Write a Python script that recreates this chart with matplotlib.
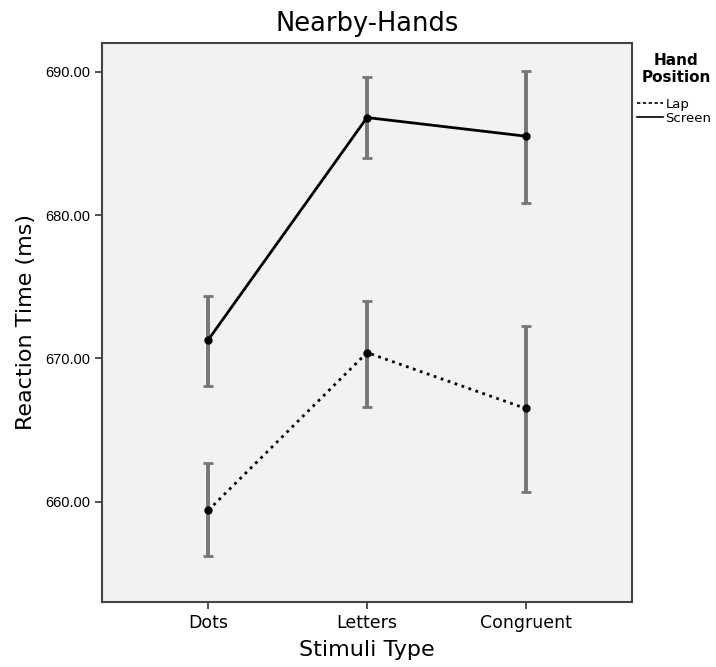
import matplotlib
matplotlib.use('Agg')
import matplotlib.pyplot as plt
from matplotlib.lines import Line2D

# data
stimuli = ['Dots', 'Letters', 'Congruent']
screen_mean = [671.3, 686.8, 685.5]
screen_lo = [668.1, 684.0, 680.85]
screen_hi = [674.35, 689.6, 690.05]
lap_mean = [659.4, 670.4, 666.5]
lap_lo = [656.2, 666.6, 660.7]
lap_hi = [662.7, 674.0, 672.25]

fig = plt.figure(figsize=(7.16, 6.67), dpi=100)
ax = fig.add_axes([0.1425, 0.0975, 0.7402, 0.838])
ax.set_facecolor('#f2f2f2')

x = list(range(len(stimuli)))

def draw(mean, lo, hi, ls):
    err = [[m - l for m, l in zip(mean, lo)], [h - m for m, h in zip(mean, hi)]]
    ax.errorbar(x, mean, yerr=err, fmt='none', ecolor='#767676', elinewidth=2.8,
                capsize=3.8, capthick=2.0, zorder=2)
    ax.plot(x, mean, color='black', linestyle=ls, linewidth=2, marker='o',
            markersize=5, zorder=3)

draw(lap_mean, lap_lo, lap_hi, ':')
draw(screen_mean, screen_lo, screen_hi, '-')

ax.set_xlim(-0.67, 2.67)
ax.set_ylim(653.0, 692.0)
ax.set_xticks(x)
ax.set_xticklabels(stimuli, fontsize=12.5)
ax.set_yticks([660, 670, 680, 690])
ax.set_yticklabels(['660.00', '670.00', '680.00', '690.00'], fontsize=10.5,
                   family='Liberation Sans')
ax.tick_params(length=5, width=1.2, color='#333333')
for s in ax.spines.values():
    s.set_color('#444444')
    s.set_linewidth(1.5)

ax.set_title('Nearby-Hands', fontsize=18.5, pad=9)
ax.set_xlabel('Stimuli Type', fontsize=16, labelpad=6)
ax.set_ylabel('Reaction Time (ms)', fontsize=16, labelpad=7)

fig.text(0.944, 0.897, 'Hand\nPosition', ha='center', va='center', fontsize=11,
         fontweight='semibold', linespacing=1.15)
handles = [Line2D([], [], color='black', linestyle=(0, (2, 1.5)), linewidth=1.2),
           Line2D([], [], color='black', linestyle='-', linewidth=1.2)]
fig.legend(handles, ['Lap', 'Screen'], loc='upper left',
           bbox_to_anchor=(0.889, 0.853), frameon=False, fontsize=9.5,
           handlelength=2.0, handletextpad=0.2, labelspacing=0.05,
           borderaxespad=0, borderpad=0)

fig.savefig('out.png', dpi=100)
